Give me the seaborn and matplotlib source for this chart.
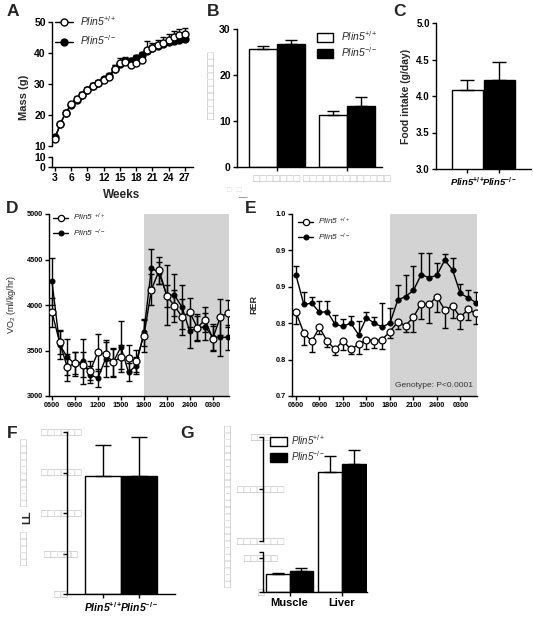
import numpy as np
import pandas as pd
import seaborn as sns
import matplotlib.pyplot as plt
from matplotlib.lines import Line2D
from matplotlib.patches import Patch

# ---------------- data ----------------
weeks = list(range(3, 28))
mass_wt = [12.3, 17.2, 20.8, 23.5, 25.3, 26.6, 28.0, 29.4, 30.2, 31.2, 32.3, 34.8, 36.8,
           37.2, 36.2, 36.7, 37.8, 40.9, 41.6, 42.5, 43.3, 44.2, 45.3, 45.8, 46.2]
mass_wt_err = [0.5, 0.6, 0.7, 0.8, 0.8, 0.8, 0.9, 0.9, 1.0, 1.0, 1.0, 1.2, 1.5,
               1.5, 1.5, 1.3, 1.5, 3.0, 1.5, 1.8, 1.8, 2.0, 1.8, 1.8, 1.8]
mass_ko = [12.8, 17.2, 20.8, 23.2, 25.0, 26.6, 28.0, 29.4, 30.3, 31.5, 32.6, 35.0, 36.5,
           37.3, 37.4, 38.4, 39.4, 40.6, 41.5, 42.3, 43.0, 43.5, 43.9, 44.3, 44.6]
mass_ko_err = [0.5, 0.5, 0.6, 0.6, 0.7, 0.7, 0.7, 0.8, 0.8, 0.8, 0.9, 1.0, 1.0,
               1.0, 1.0, 1.0, 1.0, 1.0, 1.0, 1.0, 1.0, 1.0, 1.0, 1.0, 1.0]

b_groups = ["□□□□□□□", "□□□□□□□□□□□□□"]
b_wt = [25.7, 11.3]
b_wt_err = [0.5, 0.9]
b_ko = [26.8, 13.2]
b_ko_err = [0.8, 2.0]

geno = ["WT", "KO"]
geno_ticks = [r"Plin5$^{\mathbf{+/+}}$", r"Plin5$^{\mathbf{-/-}}$"]
food = [4.08, 4.22]
food_err = [0.14, 0.25]

hours = list(range(24))
hour_ticks = [0, 3, 6, 9, 12, 15, 18, 21]
hour_labels = ["0600", "0900", "1200", "1500", "1800", "2100", "2400", "0300"]
vo2_wt = [3920, 3590, 3315, 3360, 3345, 3280, 3480, 3460, 3370, 3430, 3420, 3385,
          3660, 4170, 4380, 4100, 3990, 3870, 3920, 3750, 3840, 3630, 3870, 3910]
vo2_wt_err = [160, 130, 150, 120, 140, 100, 200, 130, 150, 130, 140, 120,
              180, 170, 150, 120, 180, 200, 160, 130, 140, 140, 200, 150]
vo2_ko = [4260, 3560, 3430, 3350, 3380, 3235, 3195, 3410, 3370, 3540, 3260, 3335,
          3700, 4410, 4350, 4110, 4110, 3975, 3710, 3750, 3760, 3650, 3645, 3645]
vo2_ko_err = [260, 150, 200, 130, 250, 90, 100, 200, 160, 280, 100, 90,
              150, 210, 120, 330, 230, 240, 180, 150, 150, 140, 200, 140]

rer_wt = [0.838, 0.804, 0.790, 0.813, 0.790, 0.777, 0.791, 0.777, 0.785, 0.793, 0.791, 0.793,
          0.806, 0.822, 0.816, 0.830, 0.852, 0.851, 0.864, 0.842, 0.848, 0.830, 0.843, 0.836]
rer_wt_err = [0.02, 0.02, 0.018, 0.01, 0.01, 0.01, 0.015, 0.007, 0.015, 0.015, 0.012, 0.015,
              0.01, 0.012, 0.01, 0.025, 0.025, 0.03, 0.025, 0.03, 0.02, 0.02, 0.018, 0.018]
rer_ko = [0.899, 0.851, 0.853, 0.838, 0.839, 0.818, 0.815, 0.820, 0.801, 0.829, 0.820, 0.814,
          0.820, 0.858, 0.864, 0.874, 0.900, 0.895, 0.899, 0.924, 0.908, 0.869, 0.862, 0.854]
rer_ko_err = [0.016, 0.02, 0.01, 0.018, 0.018, 0.015, 0.012, 0.012, 0.022, 0.01, 0.01, 0.04,
              0.025, 0.025, 0.035, 0.04, 0.035, 0.04, 0.02, 0.01, 0.02, 0.015, 0.013, 0.018]

f_vals = [2.92, 2.92]
f_err = [0.76, 0.96]
f_ticklabels = ["□□", "□□□□□", "□□□□□□", "□□□□□□", "□□□□□□"]

tissues = ["Muscle", "Liver"]
g_wt = [10.6, 233]
g_wt_err = [0.6, 30]
g_ko = [12.4, 248]
g_ko_err = [1.7, 27]
g_ticks = [0, 20, 23.5, 100, 200, 300]
g_ticklabels = ["□", "□□□□□", "", "□□□□□□□", "□□□□□□□", "□□□"]

# ---------------- style ----------------
sns.set_theme(style="ticks")
plt.rcParams['font.family'] = ['Liberation Sans', 'DejaVu Sans']
plt.rcParams.update({
    'mathtext.fontset': 'custom',
    'mathtext.rm': 'Liberation Sans',
    'mathtext.it': 'Liberation Sans:italic',
    'mathtext.bf': 'Liberation Sans:bold',
    'axes.linewidth': 1.0,
    'axes.edgecolor': 'black',
    'xtick.major.width': 1.0, 'ytick.major.width': 1.0,
    'xtick.major.size': 3, 'ytick.major.size': 3,
    'xtick.major.pad': 1.5, 'ytick.major.pad': 1.5,
    'xtick.color': 'black', 'ytick.color': 'black',
})
TOFU = '#bcbcbc'
TS = 8  # size of the unreadable (boxed) glyphs
W, H = 533, 618
fig = plt.figure(figsize=(W / 100, H / 100), dpi=100)


def rect(x0, y0, x1, y1):
    return [x0 / W, 1 - y1 / H, (x1 - x0) / W, (y1 - y0) / H]


def ftext(x, y, s, **kw):
    fig.text(x / W, 1 - y / H, s, **kw)


def bar_errors(ax, errs, cap):
    for cont, ee in zip(ax.containers, errs):
        for bar, e in zip(cont, ee):
            xc = bar.get_x() + bar.get_width() / 2
            ax.errorbar(xc, bar.get_height(), yerr=[[0], [e]], fmt='none', ecolor='black',
                        elinewidth=1, capsize=cap, capthick=1, zorder=5)


def tick_font(ax, size, axis='both', bold=True):
    ax.tick_params(axis=axis, labelsize=size)
    for lab in (ax.get_xticklabels() if axis in ('x', 'both') else []) + \
               (ax.get_yticklabels() if axis in ('y', 'both') else []):
        if bold:
            lab.set_fontweight('bold')


wt_kw = dict(color='black', lw=1, marker='o', ms=5, mfc='white', mec='black', mew=1)
ko_kw = dict(color='black', lw=1, marker='o', ms=5, mfc='black', mec='black', mew=1)

# ---------------- A: body mass ----------------
axA = fig.add_axes(rect(52, 22, 193, 146))
axA0 = fig.add_axes(rect(52, 157, 193, 167))
dfA = pd.DataFrame({'week': weeks * 2, 'mass': mass_wt + mass_ko,
                    'geno': ['WT'] * len(weeks) + ['KO'] * len(weeks)})
axA.errorbar(weeks, mass_wt, yerr=[np.zeros(len(weeks)), mass_wt_err], fmt='none',
             ecolor='black', elinewidth=1, capsize=2.5, zorder=1)
axA.errorbar(weeks, mass_ko, yerr=[np.zeros(len(weeks)), mass_ko_err], fmt='none',
             ecolor='black', elinewidth=1, capsize=2.5, zorder=1)
sns.lineplot(data=dfA[dfA.geno == 'KO'], x='week', y='mass', ax=axA, errorbar=None, **ko_kw)
sns.lineplot(data=dfA[dfA.geno == 'WT'], x='week', y='mass', ax=axA, errorbar=None, **wt_kw)
for ax in (axA, axA0):
    ax.set_xlim(2.45, 28.5)
    ax.set_xlabel('')
    ax.set_ylabel('')
axA.set_ylim(10, 50)
axA.set_yticks([10, 20, 30, 40, 50])
axA.spines[['top', 'right', 'bottom']].set_visible(False)
axA.tick_params(axis='x', bottom=False, labelbottom=False)
axA0.set_ylim(0, 10)
axA0.set_yticks([0, 10])
axA0.set_xticks(range(3, 28, 3))
axA0.spines[['top', 'right']].set_visible(False)
axA0.patch.set_alpha(0)
tick_font(axA, 7.5)
tick_font(axA0, 7.5)
ftext(24, 97, 'Mass (g)', rotation=90, ha='center', va='center', fontsize=8, fontweight='bold')
ftext(122, 195, 'Weeks', ha='center', va='center', fontsize=8.5, fontweight='bold')
axA.legend(handles=[Line2D([], [], **wt_kw), Line2D([], [], **ko_kw)],
           labels=[r"Plin5$^{+/+}$", r"Plin5$^{-/-}$"], loc='upper left',
           bbox_to_anchor=(55 / W, 1 - 14 / H), bbox_transform=fig.transFigure,
           frameon=False, prop={'style': 'italic', 'size': 7.5}, handlelength=1.7,
           handletextpad=0.7, borderpad=0, borderaxespad=0, labelspacing=0.55)

# ---------------- B ----------------
axB = fig.add_axes(rect(237, 29, 382, 167))
dfB = pd.DataFrame({'group': b_groups * 2, 'value': b_wt + b_ko,
                    'geno': ['WT', 'WT', 'KO', 'KO']})
sns.barplot(data=dfB, x='group', y='value', hue='geno', hue_order=geno,
            palette={'WT': 'white', 'KO': 'black'}, saturation=1, width=0.8,
            edgecolor='black', linewidth=1, errorbar=None, legend=False, ax=axB)
bar_errors(axB, [b_wt_err, b_ko_err], 4)
axB.set_xlim(-0.571, 1.5)
axB.set_ylim(0, 30)
axB.set_yticks([0, 10, 20, 30])
axB.set_xlabel('')
axB.set_ylabel('')
sns.despine(ax=axB)
tick_font(axB, 7.5, 'y')
axB.tick_params(axis='x', labelsize=TS, labelcolor=TOFU, pad=2)
axB.legend(handles=[Patch(fc='white', ec='black', lw=1), Patch(fc='black', ec='black', lw=1)],
           labels=[r"Plin5$^{+/+}$", r"Plin5$^{-/-}$"], loc='upper left',
           bbox_to_anchor=(317 / W, 1 - 29 / H), bbox_transform=fig.transFigure,
           frameon=False, prop={'style': 'italic', 'size': 7.5}, handlelength=1.5,
           handleheight=0.95, handletextpad=0.8, borderpad=0, borderaxespad=0, labelspacing=0.2)
ftext(212, 85, "□" * 10, rotation=90, ha='center', va='center', fontsize=TS, color=TOFU)
ftext(234, 190, "□  □", ha='center', va='center', fontsize=6, color='#dddddd')
ftext(243, 198, "—", ha='center', va='center', fontsize=6, color='#333333')

# ---------------- C: food intake ----------------
axC = fig.add_axes(rect(436, 23, 531, 169))
dfC = pd.DataFrame({'geno': geno_ticks, 'food': food})
sns.barplot(data=dfC, x='geno', y='food', hue='geno', palette=['white', 'black'],
            saturation=1, width=0.985, edgecolor='black', linewidth=1, errorbar=None,
            legend=False, ax=axC)
bar_errors(axC, [[e] for e in food_err], 5)
axC.set_xlim(-0.985, 2.0)
axC.set_ylim(3.0, 5.0)
axC.set_yticks([3.0, 3.5, 4.0, 4.5, 5.0])
axC.set_yticklabels(['3.0', '3.5', '4.0', '4.5', '5.0'])
axC.set_xlabel('')
axC.set_ylabel('Food intake (g/day)', fontsize=7.5, fontweight='bold', labelpad=4)
sns.despine(ax=axC)
tick_font(axC, 7, 'y')
axC.tick_params(axis='x', labelsize=6.8)
for lab in axC.get_xticklabels():
    lab.set_fontweight('bold')
    lab.set_fontstyle('italic')


# ---------------- D & E: time courses ----------------
def time_course(ax, wt, wt_err, ko, ko_err, wt_err_lo, wt_err_hi, ko_err_lo, ko_err_hi, xl):
    ax.axvspan(12, xl[1], color='#d3d3d3', lw=0, zorder=0)
    n = len(hours)
    ax.errorbar(hours, wt, yerr=[np.array(wt_err) * wt_err_lo, np.array(wt_err) * wt_err_hi],
                fmt='none', ecolor='black', elinewidth=1, capsize=2.5, zorder=2)
    ax.errorbar(hours, ko, yerr=[np.array(ko_err) * ko_err_lo, np.array(ko_err) * ko_err_hi],
                fmt='none', ecolor='black', elinewidth=1, capsize=2.5, zorder=2)
    df = pd.DataFrame({'hour': hours * 2, 'val': ko + wt, 'geno': ['KO'] * n + ['WT'] * n})
    kk = dict(ko_kw, ms=3.5, mew=0.8, zorder=3)
    ww = dict(wt_kw, ms=5, mew=0.9, zorder=4)
    sns.lineplot(data=df[df.geno == 'KO'], x='hour', y='val', ax=ax, errorbar=None, **kk)
    sns.lineplot(data=df[df.geno == 'WT'], x='hour', y='val', ax=ax, errorbar=None, **ww)
    ax.set_xlim(*xl)
    ax.set_xticks(hour_ticks)
    ax.set_xticklabels(hour_labels)
    ax.set_xlabel('')
    sns.despine(ax=ax)
    return kk, ww


axD = fig.add_axes(rect(49, 214, 229, 396))
kk, ww = time_course(axD, vo2_wt, vo2_wt_err, vo2_ko, vo2_ko_err, 1, 1, 1, 1, (-0.39, 23.13))
axD.set_ylim(3000, 5000)
axD.set_yticks([3000, 3500, 4000, 4500, 5000])
axD.set_ylabel(r'VO$_2$ (ml/kg/hr)', fontsize=6.5, labelpad=6)
axD.legend(handles=[Line2D([], [], **dict(ww, ms=4.5)), Line2D([], [], **kk)],
           labels=[r"Plin5 $^{+/+}$", r"Plin5 $^{-/-}$"], loc='upper left',
           bbox_to_anchor=(53 / W, 1 - 212 / H), bbox_transform=fig.transFigure,
           frameon=False, prop={'style': 'italic', 'size': 6}, handlelength=1.8,
           handletextpad=0.6, borderpad=0, borderaxespad=0, labelspacing=0.5)

axE = fig.add_axes(rect(292, 214, 477, 396))
kk, ww = time_course(axE, rer_wt, rer_wt_err, rer_ko, rer_ko_err, 1, 0, 0, 1, (-0.51, 23.13))
axE.set_ylim(0.7, 1.0)
axE.set_yticks([0.7, 0.76, 0.82, 0.88, 0.94, 1.0])
axE.set_yticklabels(['0.7', '0.8', '0.8', '0.9', '0.9', '1.0'])
axE.set_ylabel('RER', fontsize=6.5, fontweight='bold', labelpad=12)
axE.text(0.765, 0.055, 'Genotype: P<0.0001', transform=axE.transAxes, ha='center',
         va='center', fontsize=6, color='#333333')
axE.legend(handles=[Line2D([], [], **dict(ww, ms=4.5)), Line2D([], [], **kk)],
           labels=[r"Plin5 $^{+/+}$", r"Plin5 $^{-/-}$"], loc='upper left',
           bbox_to_anchor=(298 / W, 1 - 216 / H), bbox_transform=fig.transFigure,
           frameon=False, prop={'style': 'italic', 'size': 6}, handlelength=1.8,
           handletextpad=0.6, borderpad=0, borderaxespad=0, labelspacing=0.5)
tick_font(axE, 5.3)
tick_font(axD, 5.3)

# ---------------- F ----------------
axF = fig.add_axes(rect(67, 432, 175, 594))
dfF = pd.DataFrame({'geno': geno_ticks, 'val': f_vals})
sns.barplot(data=dfF, x='geno', y='val', hue='geno', palette=['white', 'black'],
            saturation=1, width=1.0, edgecolor='black', linewidth=1, errorbar=None,
            legend=False, ax=axF)
bar_errors(axF, [[e] for e in f_err], 6)
axF.set_xlim(-1.0, 2.0)
axF.set_ylim(0, 4)
axF.set_yticks([0, 1, 2, 3, 4])
axF.set_yticklabels(f_ticklabels)
axF.set_xlabel('')
axF.set_ylabel('')
sns.despine(ax=axF)
axF.tick_params(axis='y', labelsize=TS, labelcolor=TOFU, pad=1.3)
for lab in axF.get_yticklabels():
    lab.set_ha('center')
axF.tick_params(axis='x', labelsize=7.5)
for lab in axF.get_xticklabels():
    lab.set_fontweight('bold')
    lab.set_fontstyle('italic')
ftext(25, 472, "□" * 10, rotation=90, ha='center', va='center', fontsize=TS, color=TOFU)
ftext(25, 548, "□" * 5, rotation=90, ha='center', va='center', fontsize=TS, color=TOFU)
ftext(27, 517, "LL", rotation=90, ha='center', va='center', fontsize=8, fontweight='bold')

# ---------------- G: broken axis ----------------
axG = fig.add_axes(rect(263, 437, 367, 592))
seg_v = [0, 23.5, 100, 300]
seg_p = [0, 40, 51, 155]
axG.set_yscale('function', functions=(lambda y: np.interp(y, seg_v, seg_p),
                                      lambda p: np.interp(p, seg_p, seg_v)))
dfG = pd.DataFrame({'tissue': tissues * 2, 'val': g_wt + g_ko,
                    'geno': ['WT', 'WT', 'KO', 'KO']})
sns.barplot(data=dfG, x='tissue', y='val', hue='geno', hue_order=geno,
            palette={'WT': 'white', 'KO': 'black'}, saturation=1, width=0.9,
            edgecolor='black', linewidth=1, errorbar=None, legend=False, ax=axG)
bar_errors(axG, [g_wt_err, g_ko_err], 4)
axG.set_xlim(-0.505, 1.476)
axG.set_ylim(0, 300)
axG.set_yticks(g_ticks)
axG.set_yticklabels(g_ticklabels)
axG.minorticks_off()
axG.set_xlabel('')
axG.set_ylabel('')
sns.despine(ax=axG)
axG.spines['left'].set_visible(False)
ytr = axG.get_yaxis_transform()
axG.plot([0, 0], [0, 23.5], transform=ytr, color='black', lw=1, clip_on=False)
axG.plot([0, 0], [100, 300], transform=ytr, color='black', lw=1, clip_on=False)
axG.set_ylim(0, 300)
axG.tick_params(axis='y', labelsize=TS, labelcolor=TOFU, pad=-1.5)
for lab in axG.get_yticklabels():
    lab.set_ha('center')
tick_font(axG, 8, 'x')
axG.legend(handles=[Patch(fc='white', ec='black', lw=1), Patch(fc='black', ec='black', lw=1)],
           labels=[r"Plin5$^{+/+}$", r"Plin5$^{-/-}$"], loc='upper left',
           bbox_to_anchor=(270 / W, 1 - 433 / H), bbox_transform=fig.transFigure,
           frameon=False, prop={'style': 'italic', 'size': 7}, handlelength=1.7,
           handleheight=0.95, handletextpad=0.5, borderpad=0, borderaxespad=0, labelspacing=0.25)
ftext(229, 506, "□" * 24, rotation=90, ha='center', va='center', fontsize=TS, color=TOFU)

# ---------------- panel letters ----------------
for letter, x, y in [('A', 13, 11), ('B', 213, 11), ('C', 399, 12), ('D', 12, 209),
                     ('E', 251, 209), ('F', 12, 434), ('G', 187, 434)]:
    ftext(x, y, letter, ha='center', va='center', fontsize=12.5, fontweight='bold')

fig.savefig('out.png', dpi=100)
